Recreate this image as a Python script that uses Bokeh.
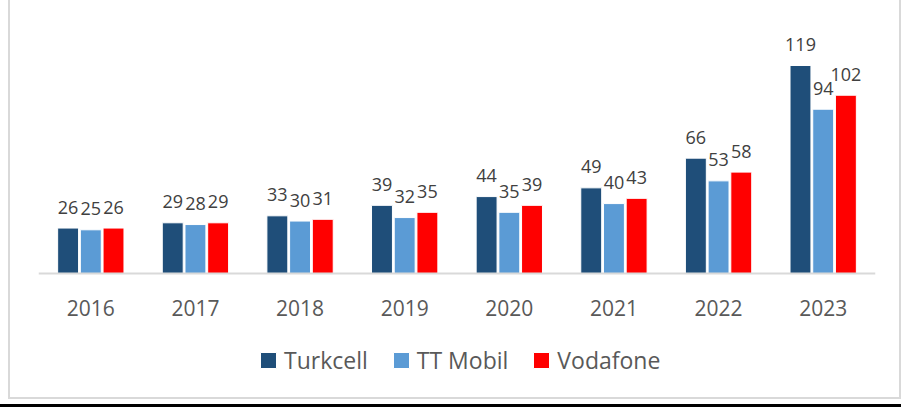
from bokeh.plotting import figure
from bokeh.models import Legend, LegendItem, ColumnDataSource
from bokeh.transform import dodge
from bokeh.core.properties import value
from bokeh.embed import file_html
from bokeh.resources import INLINE

years = ["2016", "2017", "2018", "2019", "2020", "2021", "2022", "2023"]
turkcell = [26, 29, 33, 39, 44, 49, 66, 119]
ttmobil = [25, 28, 30, 32, 35, 40, 53, 94]
vodafone = [26, 29, 31, 35, 39, 43, 58, 102]
series_names = ["Turkcell", "TT Mobil", "Vodafone"]
colors = ["#1F4E79", "#5B9BD5", "#FF0000"]

FONT = "Open Sans"

src = ColumnDataSource(dict(
    year=years,
    turkcell=turkcell, ttmobil=ttmobil, vodafone=vodafone,
    turkcell_t=[str(v) for v in turkcell],
    ttmobil_t=[str(v) for v in ttmobil],
    vodafone_t=[str(v) for v in vodafone],
))

p = figure(x_range=years, y_range=(-72.1, 156.2), width=893, height=399,
           output_backend="svg", toolbar_location=None,
           min_border_left=28, min_border_right=28, min_border_top=0,
           min_border_bottom=0)
p.outline_line_color = None
p.background_fill_color = "white"
p.border_fill_color = "white"
p.grid.visible = False
p.yaxis.visible = False
p.x_range.range_padding = 0

keys = ["turkcell", "ttmobil", "vodafone"]
offsets = [-0.217, 0.0, 0.217]
renderers = []
for k, off, c in zip(keys, offsets, colors):
    r = p.vbar(x=dodge("year", off, range=p.x_range), top=k, bottom=0, width=0.2,
               source=src, fill_color=c, line_color="white", line_width=1)
    renderers.append(r)
    p.text(x=dodge("year", off, range=p.x_range), y=k, text=k + "_t", source=src,
           text_align="center", text_baseline="alphabetic", y_offset=-21,
           text_font=value(FONT), text_font_size="18px", text_color="#404040")

ax = p.xaxis[0]
ax.fixed_location = 0
ax.axis_line_color = "#d9d9d9"
ax.axis_line_width = 2
ax.major_tick_line_color = None
ax.minor_tick_line_color = None
ax.major_label_text_font = FONT
ax.major_label_text_font_size = "21px"
ax.major_label_text_color = "#595959"
ax.major_label_standoff = 21

legend = Legend(items=[LegendItem(label=n, renderers=[r]) for n, r in zip(series_names, renderers)],
                orientation="horizontal", location=(220, 23),
                glyph_width=20, glyph_height=20, label_standoff=6, spacing=23,
                padding=0, margin=0, border_line_color=None, background_fill_alpha=0,
                label_text_font=FONT, label_text_font_size="23px", label_text_color="#595959")
p.add_layout(legend, "center")

p.styles = {"margin-left": "8px",
            "border-left": "2px solid #d9d9d9", "border-right": "2px solid #d9d9d9",
            "border-bottom": "2px solid #d9d9d9",
            "box-shadow": "-8px 5px 0 0 #ffffff, 0 5px 0 0 #ffffff, -8px 8px 0 0 #000000, 0 8px 0 0 #000000"}

open("out.html", "w").write(file_html(p, INLINE))
